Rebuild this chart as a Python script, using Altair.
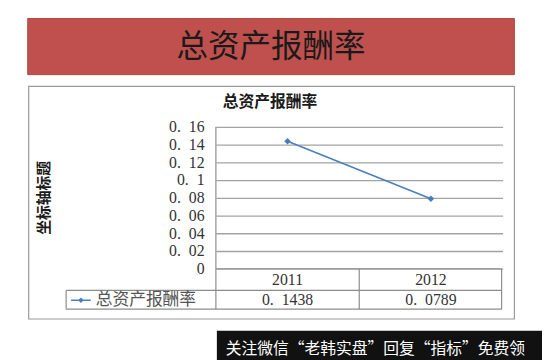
import altair as alt
import pandas as pd

# ---- data ----
years = ["2011", "2012"]
values = [0.1438, 0.0789]
y_ticks = [0, 0.02, 0.04, 0.06, 0.08, 0.10, 0.12, 0.14, 0.16]
banner_title = "总资产报酬率"
chart_title = "总资产报酬率"
y_title = "坐标轴标题"
series_name = "总资产报酬率"
watermark = "关注微信“老韩实盘”回复“指标”免费领"

df = pd.DataFrame({"year": years, "value": values})
one = alt.Data(values=[{"k": 1}])

W, H = 291, 144
BLUE = "#4A7EBB"
CJK = "Noto Sans CJK SC"
SERIF = "Liberation Serif"
EN = "\u2002"


def rule(x1, x2, y1, y2, color="#8c8c8c", w=1.2):
    return alt.Chart(one).mark_rule(color=color, strokeWidth=w).encode(
        x=alt.value(x1), x2=alt.value(x2), y=alt.value(y1), y2=alt.value(y2))


def label(txt, x, y, **kw):
    return alt.Chart(one).mark_text(text=txt, **kw).encode(x=alt.value(x), y=alt.value(y))


banner = alt.Chart(one).mark_rect(fill="#C0504D", stroke="#b4463f", strokeWidth=1).encode(
    x=alt.value(-191), x2=alt.value(303), y=alt.value(-110), y2=alt.value(-53))
banner_txt = label(banner_title, 56, -81, font=CJK, fontSize=32, color="#1a1a1a",
                   align="center", baseline="middle")
box = alt.Chart(one).mark_rect(fillOpacity=0, stroke="#9a9a9a", strokeWidth=1.2).encode(
    x=alt.value(-190), x2=alt.value(303), y=alt.value(-41), y2=alt.value(195))
inner_title = label(chart_title, 55, -25, font=CJK, fontSize=16, fontWeight="bold",
                    color="#1a1a1a", align="center", baseline="middle")
ytitle = label(y_title, -174, 72, font=CJK, fontSize=15, fontWeight="bold",
               color="#1a1a1a", align="center", baseline="middle", angle=270)

base = alt.Chart(df)
xenc = alt.X("year:O", axis=None)
yaxis = alt.Axis(values=y_ticks, tickCount=9, grid=True, gridColor="#a3a3a3", gridWidth=1.3,
                 domain=False, ticks=False, title=None, labelFont=SERIF,
                 labelFontSize=16, labelColor="#333333", labelPadding=12,
                 labelOverlap=False, labelFlush=False, labelBound=False,
                 labelExpr="datum.value == 0 ? '0' : replace(format(datum.value, '.2~f'), '.', '." + EN + "')")
yenc = alt.Y("value:Q", scale=alt.Scale(domain=[0, 0.16], nice=False), axis=yaxis)

line = base.mark_line(color=BLUE, strokeWidth=1.5).encode(x=xenc, y=yenc)
pts = base.mark_point(shape="diamond", filled=True, size=45, color=BLUE, opacity=1).encode(x=xenc, y=yenc)

yr_txt = base.mark_text(font=SERIF, fontSize=16, color="#333333", baseline="middle").encode(
    x=xenc, y=alt.value(156), text="year:N")
val_txt = base.transform_calculate(
    lbl="replace(format(datum.value, '.4f'), '.', '." + EN + "')"
).mark_text(font=SERIF, fontSize=16, color="#333333", baseline="middle").encode(
    x=xenc, y=alt.value(176), text="lbl:N")

table = [
    rule(0, 0, 0, 185),
    rule(0, 290, 144, 144),
    rule(-152, 290, 166, 166),
    rule(-152, 290, 185, 185),
    rule(-152, -152, 166, 185),
    rule(145.5, 145.5, 144, 185),
    rule(290, 290, 144, 185),
]

leg_line = rule(-147, -127, 176, 176, color=BLUE, w=1.5)
leg_pt = alt.Chart(one).mark_point(shape="diamond", filled=True, size=30, color=BLUE, opacity=1).encode(
    x=alt.value(-137), y=alt.value(176))
leg_txt = label(series_name, -122, 176, font=CJK, fontSize=17, color="#555555",
                align="left", baseline="middle")

wm_bar = alt.Chart(one).mark_rect(fill="#111111").encode(
    x=alt.value(1), x2=alt.value(331), y=alt.value(207), y2=alt.value(240))
wm_txt = label(watermark, 10, 226, font=CJK, fontSize=16, color="#ffffff",
               align="left", baseline="middle")

chart = alt.layer(
    banner, banner_txt, box, inner_title, ytitle,
    line, pts, yr_txt, val_txt, *table, leg_line, leg_pt, leg_txt, wm_bar, wm_txt
).properties(
    width=W, height=H,
    autosize=alt.AutoSizeParams(type="none"),
    padding={"left": 211, "top": 118, "right": 40, "bottom": 90},
    background="white",
).configure_view(stroke=None)

chart.save("out.html", embed_options={"renderer": "svg", "actions": False})
